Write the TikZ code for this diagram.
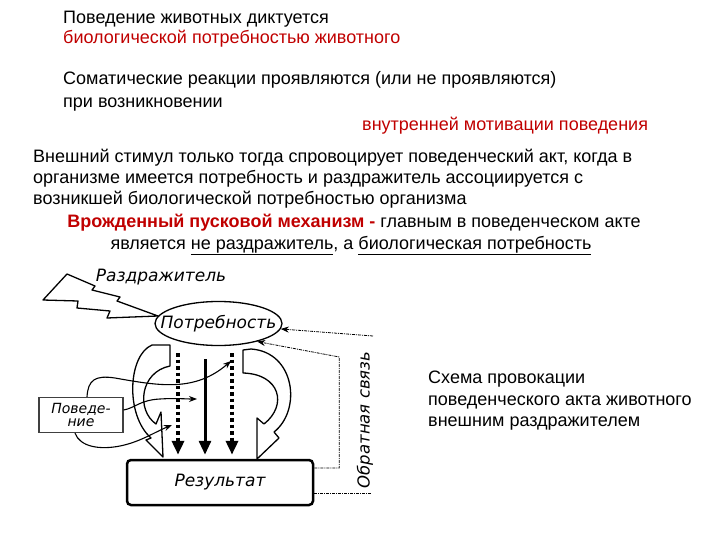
\documentclass[tikz,border=0pt]{standalone}
\usepackage{fontspec}
\setmainfont{Liberation Sans}
\newfontfamily\scanfont{DejaVu Sans}
\usetikzlibrary{arrows.meta,shapes.geometric}

\definecolor{slidered}{RGB}{192,0,0}

\begin{document}
\begin{tikzpicture}[x=1pt,y=-1pt,
  txt/.style={anchor=base west,inner sep=0pt,font=\fontsize{18}{21}\selectfont},
  ctxt/.style={anchor=base,inner sep=0pt,font=\fontsize{18}{21}\selectfont},
  lbl/.style={inner sep=0pt,font=\fontsize{17}{14}\selectfont\scanfont\itshape},
  hollow/.style={draw,fill=white,line width=1.3pt,line join=round},
  dotarrow/.style={line width=3.5pt,dash pattern=on 3.5pt off 3pt,shorten >=4pt,-{Triangle[length=14pt,width=12pt]}},
  fullarrow/.style={line width=3pt,shorten >=4pt,-{Triangle[length=14pt,width=12pt]}},
  curv/.style={line width=1.1pt,-{Stealth[length=8pt,width=6pt]}},
  fb/.style={line width=0.8pt,dash pattern=on 3pt off 1pt on 1pt off 1pt,-{Stealth[length=8pt,width=6pt]}}]
\useasboundingbox (0,0) rectangle (720,540);

\node[txt] (l1) at (63,24) {Поведение животных диктуется};
\node[txt,text=slidered] (l2) at (63,44) {биологической потребностью животного};
\node[txt] (l3) at (63,85) {Соматические реакции проявляются (или не проявляются)};
\node[txt] (l4) at (63,108) {при возникновении};
\node[txt,text=slidered] (l5) at (362,131) {внутренней мотивации поведения};
\node[txt] (l6) at (33,163) {Внешний стимул только тогда спровоцирует поведенческий акт, когда в};
\node[txt] (l7) at (33,184) {организме имеется потребность и раздражитель ассоциируется с};
\node[txt] (l8) at (33,205) {возникшей биологической потребностью организма};
\node[ctxt] (l9) at (354,227) {\textcolor{slidered}{\bfseries Врожденный пусковой механизм -} главным в поведенческом акте};
\node[ctxt] (l10) at (351,249) {является \underline{не раздражитель}, а \underline{биологическая потребность}};

\node[txt] (cap1) at (428,383) {Схема провокации};
\node[txt] (cap2) at (428,405) {поведенческого акта животного};
\node[txt] (cap3) at (428,426) {внешним раздражителем};

\draw[hollow] (67,274) -- (95,286) -- (92,290) -- (120,297) -- (117,301) -- (158,316)
  -- (107,318) -- (110,311) -- (77,308) -- (78,301) -- (43,300) -- cycle;
\node[lbl] (stim) at (161,277) {Раздражитель};

\node[draw,ellipse,line width=1.3pt,minimum width=127pt,minimum height=44pt,inner sep=0pt] (need) at (218.5,323.5) {};
\node[lbl] at (need) {Потребность};
\node[draw,rounded corners=4pt,line width=2.5pt,minimum width=186pt,minimum height=45pt] (result) at (220,482.5) {};
\node[lbl] at (result) {Результат};
\node[draw=black!75,line width=1.2pt,minimum width=84pt,minimum height=35pt] (behav) at (81,415) {};
\node[lbl,font=\fontsize{14}{14}\selectfont\scanfont\itshape] at ([yshift=6pt]behav.center) {Поведе-};
\node[lbl,font=\fontsize{14}{14}\selectfont\scanfont\itshape] at ([yshift=-8pt]behav.center) {ние};

\draw[hollow] (152,345) -- (170,345) -- (170,366) .. controls (140,372) and (136,410) .. (156,424)
  -- (161,412) -- (163,457) -- (146,440) -- (151,438) .. controls (125,415) and (128,355) .. cycle;
\draw[hollow] (243,350) -- (251,349) .. controls (295,352) and (302,410) .. (274,432)
  -- (279,438) -- (257,459) -- (257,418) -- (264,424) .. controls (288,405) and (280,374) .. (243,373) -- cycle;

\coordinate (a1) at (178,353);
\coordinate (a2) at (205,359);
\coordinate (a3) at (232,353);
\draw[dotarrow] (a1) -- (a1 |- result.north);
\draw[fullarrow] (a2) -- (a2 |- result.north);
\draw[dotarrow] (a3) -- (a3 |- result.north);

\coordinate (t1) at (231,361);
\coordinate (t2) at (197,399);
\coordinate (t3) at (172,425);
\draw[curv] ([xshift=6pt]behav.north) .. controls (88,380) and (95,375) .. (115,378)
  .. controls (160,386) and (195,392) .. (t1);
\draw[curv] ([yshift=5pt]behav.east) .. controls (135,408) and (140,400) .. (160,399)
  .. controls (175,398) and (185,399) .. (t2);
\draw[curv] ([xshift=-6pt]behav.south) .. controls (80,447) and (100,450) .. (120,446)
  .. controls (140,442) and (155,432) .. (t3);

\node[lbl,font=\fontsize{16.5}{14}\selectfont\scanfont\itshape,rotate=90] (fbtext) at (365,420) {Обратная связь};
\coordinate (fa) at (373,336);
\draw[fb] (fa) -- (need.-5);
\draw[fb] ([yshift=14.5pt]result.east) -- ++(25,0) -- ++(0,-111) -- (need.-25);
\draw[line width=0.8pt,dash pattern=on 3pt off 1pt on 1pt off 1pt] ([yshift=-10.5pt]result.east) -- ++(57,0);
\end{tikzpicture}
\end{document}
